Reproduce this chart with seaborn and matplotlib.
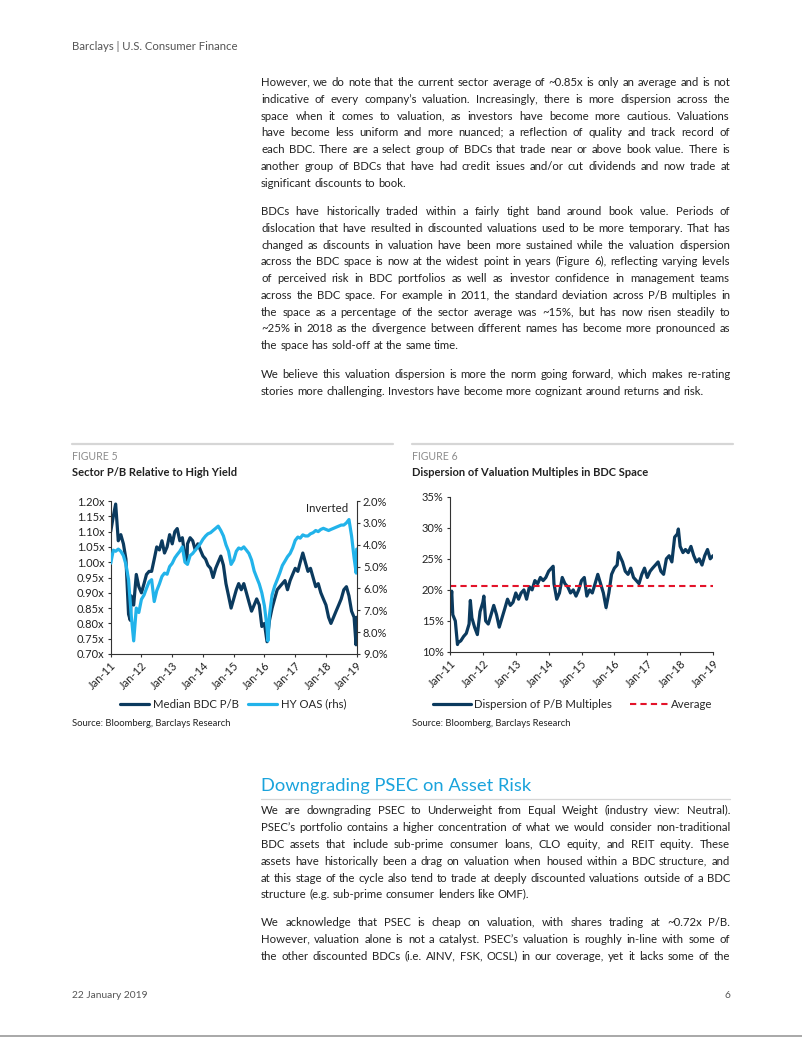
import math
import numpy as np
import pandas as pd
import seaborn as sns
import matplotlib.pyplot as plt
import matplotlib.dates as mdates
from matplotlib.ticker import MultipleLocator, FuncFormatter
from matplotlib.lines import Line2D
from matplotlib.font_manager import FontProperties

W, H = 802, 1037

# ---- chart data (monthly + a few spikes) ----
months = pd.date_range("2011-01-01", "2019-01-01", freq="MS")

pb_monthly = [
    1.10, 1.15, 1.19, 1.07, 1.09, 1.06, 1.01, 0.83, 0.89, 0.86, 0.96, 0.92,
    0.90, 0.93, 0.96, 0.97, 0.97, 1.01, 1.05, 1.04, 1.07, 1.03, 1.05, 1.09,
    1.06, 1.10, 1.11, 1.07, 1.08, 1.02, 1.06, 1.08, 1.07, 1.04, 1.06, 1.04,
    1.02, 1.01, 0.99, 0.98, 0.95, 0.98, 1.00, 1.02, 0.99, 0.93, 0.89, 0.85,
    0.88, 0.91, 0.93, 0.91, 0.93, 0.90, 0.87, 0.84, 0.86, 0.88, 0.86, 0.79,
    0.80, 0.74, 0.81, 0.85, 0.88, 0.91, 0.92, 0.93, 0.94, 0.91, 0.94, 0.96,
    0.98, 0.97, 1.00, 1.03, 1.00, 0.97, 0.98, 0.95, 0.92, 0.93, 0.90, 0.88,
    0.86, 0.82, 0.80, 0.82, 0.84, 0.86, 0.88, 0.91, 0.92, 0.89, 0.84, 0.82,
    0.82,
]
pb_extra_dates = ["2011-08-22", "2013-06-24", "2018-12-24"]
pb_extra_vals = [0.81, 1.00, 0.73]

hy_monthly = [
    4.85, 4.25, 4.30, 4.20, 4.30, 4.50, 4.90, 5.60, 7.20, 8.40, 6.90, 7.10,
    6.50, 6.30, 6.00, 5.70, 5.60, 6.60, 6.10, 5.80, 5.45, 5.30, 5.35, 5.00,
    4.85, 4.60, 4.45, 4.30, 4.10, 4.80, 4.90, 4.50, 4.40, 4.25, 4.10, 3.95,
    3.75, 3.60, 3.50, 3.45, 3.35, 3.25, 3.15, 3.35, 3.60, 4.00, 4.30, 4.90,
    4.70, 4.30, 4.15, 4.20, 4.10, 4.25, 4.40, 4.70, 5.20, 5.50, 5.80, 6.20,
    6.80, 7.80, 7.20, 6.30, 5.90, 5.60, 5.30, 4.95, 4.75, 4.55, 4.40, 4.15,
    3.80, 3.65, 3.70, 3.55, 3.60, 3.60, 3.50, 3.45, 3.35, 3.40, 3.30, 3.25,
    3.30, 3.35, 3.30, 3.25, 3.20, 3.15, 3.10, 3.10, 3.00, 2.85, 3.60, 4.60,
    4.20,
]
hy_extra_dates = ["2016-02-11", "2018-12-26"]
hy_extra_vals = [8.40, 5.30]

disp_monthly = [
    16.5, 16.0, 15.0, 11.5, 11.8, 12.5, 13.0, 14.5, 15.5, 14.0, 12.8, 16.5,
    18.0, 15.0, 14.5, 16.0, 17.5, 16.0, 14.0, 15.5, 17.0, 18.5, 17.5, 18.0,
    19.5, 18.5, 19.5, 20.0, 18.5, 20.5, 20.0, 21.5, 21.0, 22.0, 21.5, 22.0,
    23.0, 23.5, 21.0, 18.5, 19.5, 22.0, 21.0, 20.5, 19.5, 20.0, 19.0, 20.0,
    21.5, 22.0, 19.0, 20.0, 19.5, 21.0, 22.5, 21.0, 19.5, 17.5, 19.5, 22.5,
    23.5, 24.0, 25.5, 24.5, 23.0, 22.5, 23.5, 22.0, 21.5, 21.0, 22.5, 23.5,
    22.0, 23.0, 23.5, 24.0, 24.5, 23.0, 22.5, 25.0, 25.5, 24.5, 28.5, 29.0,
    27.0, 26.0, 26.5, 26.0, 27.0, 25.5, 24.5, 25.0, 24.0, 25.5, 26.5, 25.0,
    25.5,
]
disp_extra_dates = ["2011-01-20", "2011-03-25", "2011-08-15", "2012-01-12",
                    "2014-02-20", "2015-10-01", "2016-02-15", "2017-12-12"]
disp_extra_vals = [19.8, 11.2, 18.3, 19.0, 23.8, 16.8, 26.0, 29.8]
disp_average = 20.7


def series(vals, extra_dates, extra_vals):
    df = pd.DataFrame({"date": list(months) + list(pd.to_datetime(extra_dates)),
                       "value": list(vals) + list(extra_vals)})
    return df.sort_values("date").reset_index(drop=True)


pb = series(pb_monthly, pb_extra_dates, pb_extra_vals)
hy = series(hy_monthly, hy_extra_dates, hy_extra_vals)
disp = series(disp_monthly, disp_extra_dates, disp_extra_vals)

# ---- style ----
sns.set_theme(style="white")
FAMILY = ["Lato", "DejaVu Sans"]
plt.rcParams["font.family"] = FAMILY

NAVY = "#0b3a5e"
CYAN = "#22b3ea"
RED = "#e3132a"
TXT = "#222222"
GREY = "#8c8c8c"
RULE = "#d6d6d6"

fig = plt.figure(figsize=(W / 100, H / 100), dpi=100)
renderer = fig.canvas.get_renderer()


def fx(x):
    return x / W


def fy(y):
    return 1 - y / H


def txt(x, y, s, **kw):
    kw.setdefault("va", "baseline")
    kw.setdefault("color", TXT)
    return fig.text(fx(x), fy(y), s, **kw)


def width(s, **kw):
    t = fig.text(0, 0, s, **kw)
    w = t.get_window_extent(renderer).width
    t.remove()
    return w


def baseline_fix(word, T, size):
    # agg snaps each word's bitmap to whole pixels; undo the drift so that
    # words with commas / brackets sit on the same baseline as the rest
    prop = FontProperties(family=FAMILY, size=size)
    _, h, d = renderer.get_text_width_height_descent(word, prop, ismath=False)
    z = round(T + d) - math.floor(h) + math.floor(h - d)
    return T - (z - T)


def paragraph(lines, y0, x0=261, x1=730, step=16.75, last_left=True, size=8.2):
    kw = dict(fontsize=size, color=TXT)
    sp = width("a a", **kw) - width("aa", **kw)
    for i, line in enumerate(lines):
        words = line.split(" ")
        ws = [width(w, **kw) for w in words]
        if (i == len(lines) - 1 and last_left) or len(words) == 1:
            gap = sp
        else:
            gap = (x1 - x0 - sum(ws)) / (len(words) - 1)
        T = round(y0 + i * step)
        x = x0
        for w, wd in zip(words, ws):
            txt(x, baseline_fix(w, T, size), w, **kw)
            x += wd + gap


def hline(x0, x1, y, color=RULE, lw=1.0):
    fig.add_artist(Line2D([fx(x0), fx(x1)], [fy(y), fy(y)], color=color, lw=lw,
                          transform=fig.transFigure))


# ---- page text ----
txt(72, 50, "Barclays | U.S. Consumer Finance", fontsize=8.2, color="#555555")

paragraph([
    "However, we do note that the current sector average of ~0.85x is only an average and is not",
    "indicative of every company’s valuation. Increasingly, there is more dispersion across the",
    "space when it comes to valuation, as investors have become more cautious. Valuations",
    "have become less uniform and more nuanced; a reflection of quality and track record of",
    "each BDC. There are a select group of BDCs that trade near or above book value. There is",
    "another group of BDCs that have had credit issues and/or cut dividends and now trade at",
    "significant discounts to book.",
], 86.2)

paragraph([
    "BDCs have historically traded within a fairly tight band around book value. Periods of",
    "dislocation that have resulted in discounted valuations used to be more temporary. That has",
    "changed as discounts in valuation have been more sustained while the valuation dispersion",
    "across the BDC space is now at the widest point in years (Figure 6), reflecting varying levels",
    "of perceived risk in BDC portfolios as well as investor confidence in management teams",
    "across the BDC space. For example in 2011, the standard deviation across P/B multiples in",
    "the space as a percentage of the sector average was ~15%, but has now risen steadily to",
    "~25% in 2018 as the divergence between different names has become more pronounced as",
    "the space has sold-off at the same time.",
], 215.2)

paragraph([
    "We believe this valuation dispersion is more the norm going forward, which makes re-rating",
    "stories more challenging. Investors have become more cognizant around returns and risk.",
], 378.5)

# figure headers
hline(72, 393, 443.5, lw=1.6)
hline(412, 733, 443.5, lw=1.6)
txt(72, 459.5, "FIGURE 5", fontsize=7.6, color=GREY)
txt(72, 476.5, "Sector P/B Relative to High Yield", fontsize=8.0, fontweight="bold")
txt(412, 459.5, "FIGURE 6", fontsize=7.6, color=GREY)
txt(412, 476.5, "Dispersion of Valuation Multiples in BDC Space", fontsize=8.0,
    fontweight="bold")
txt(72, 726, "Source: Bloomberg, Barclays Research", fontsize=6.8)
txt(412, 726, "Source: Bloomberg, Barclays Research", fontsize=6.8)


def style_axis(ax):
    for s in ["left", "bottom", "right", "top"]:
        ax.spines[s].set_color("#333333")
        ax.spines[s].set_linewidth(0.8)
    ax.spines["top"].set_visible(False)
    ax.set_xlabel("")
    ax.set_ylabel("")
    ax.xaxis.set_major_locator(mdates.YearLocator())
    ax.xaxis.set_major_formatter(mdates.DateFormatter("%b-%y"))
    ax.set_xlim(pd.Timestamp("2011-01-01"), pd.Timestamp("2019-01-01"))
    ax.tick_params(axis="both", labelsize=8, labelcolor=TXT, colors="#333333",
                   length=2.5, width=0.8, pad=2)
    ax.tick_params(axis="x", bottom=True)
    ax.tick_params(axis="y", left=True)
    for lab in ax.get_xticklabels():
        lab.set_rotation(45)
        lab.set_ha("right")
        lab.set_rotation_mode("anchor")


# ---- Figure 5 ----
ax1 = fig.add_axes([fx(110.7), fy(654), 246 / W, 153 / H])
sns.lineplot(data=pb, x="date", y="value", ax=ax1, color=NAVY, lw=2.3)
ax1.set_ylim(0.70, 1.20)
ax1.yaxis.set_major_locator(MultipleLocator(0.05))
ax1.yaxis.set_major_formatter(FuncFormatter(lambda v, p: f"{v:.2f}x"))
style_axis(ax1)
ax1.spines["right"].set_visible(False)

ax2 = ax1.twinx()
sns.lineplot(data=hy, x="date", y="value", ax=ax2, color=CYAN, lw=2.3)
ax2.set_ylim(9.0, 2.0)
ax2.yaxis.set_major_locator(MultipleLocator(1.0))
ax2.yaxis.set_major_formatter(FuncFormatter(lambda v, p: f"{v:.1f}%"))
ax2.spines["top"].set_visible(False)
ax2.spines["left"].set_visible(False)
ax2.spines["bottom"].set_visible(False)
ax2.spines["right"].set_color("#333333")
ax2.spines["right"].set_linewidth(0.8)
ax2.set_ylabel("")
ax2.tick_params(axis="y", right=True, labelsize=8, labelcolor=TXT, colors="#333333",
                length=2.5, width=0.8, pad=2)
ax2.text(0.965, 0.99, "Inverted", transform=ax2.transAxes, ha="right", va="top",
         fontsize=8.2, color=TXT)

fig.legend(handles=[Line2D([], [], color=NAVY, lw=2.3), Line2D([], [], color=CYAN, lw=2.3)],
           labels=["Median BDC P/B", "HY OAS (rhs)"], loc="center",
           bbox_to_anchor=(fx(233), fy(704)), ncol=2, frameon=False, fontsize=8.2,
           handlelength=2.6, handletextpad=0.3, columnspacing=0.8)

# ---- Figure 6 ----
ax3 = fig.add_axes([fx(450), fy(652), 263 / W, 155.3 / H])
sns.lineplot(data=disp, x="date", y="value", ax=ax3, color=NAVY, lw=2.3)
ax3.axhline(disp_average, color=RED, lw=1.5, ls=(0, (3, 2)))
ax3.set_ylim(10, 35)
ax3.yaxis.set_major_locator(MultipleLocator(5))
ax3.yaxis.set_major_formatter(FuncFormatter(lambda v, p: f"{v:.0f}%"))
style_axis(ax3)
ax3.spines["right"].set_visible(False)

fig.legend(handles=[Line2D([], [], color=NAVY, lw=2.3),
                    Line2D([], [], color=RED, lw=1.5, ls=(0, (3, 2)))],
           labels=["Dispersion of P/B Multiples", "Average"], loc="center",
           bbox_to_anchor=(fx(573), fy(704)), ncol=2, frameon=False, fontsize=8.2,
           handlelength=3.3, handletextpad=0.3, columnspacing=1.6)

# ---- section ----
txt(261, 791, "Downgrading PSEC on Asset Risk", fontsize=13.2, color="#1aa3dc")
hline(261, 730, 798.5, lw=0.9)

paragraph([
    "We are downgrading PSEC to Underweight from Equal Weight (industry view: Neutral).",
    "PSEC’s portfolio contains a higher concentration of what we would consider non-traditional",
    "BDC assets that include sub-prime consumer loans, CLO equity, and REIT equity. These",
    "assets have historically been a drag on valuation when housed within a BDC structure, and",
    "at this stage of the cycle also tend to trade at deeply discounted valuations outside of a BDC",
    "structure (e.g. sub-prime consumer lenders like OMF).",
], 814.5)

paragraph([
    "We acknowledge that PSEC is cheap on valuation, with shares trading at ~0.72x P/B.",
    "However, valuation alone is not a catalyst. PSEC’s valuation is roughly in-line with some of",
    "the other discounted BDCs (i.e. AINV, FSK, OCSL) in our coverage, yet it lacks some of the",
], 926.5, last_left=False)

txt(72, 998.5, "22 January 2019", fontsize=7.4, color="#555555")
txt(730, 998.5, "6", fontsize=7.4, color="#555555", ha="right")
hline(0, W, 1036, color="#999999", lw=1.2)

fig.savefig("out.png", dpi=100)
